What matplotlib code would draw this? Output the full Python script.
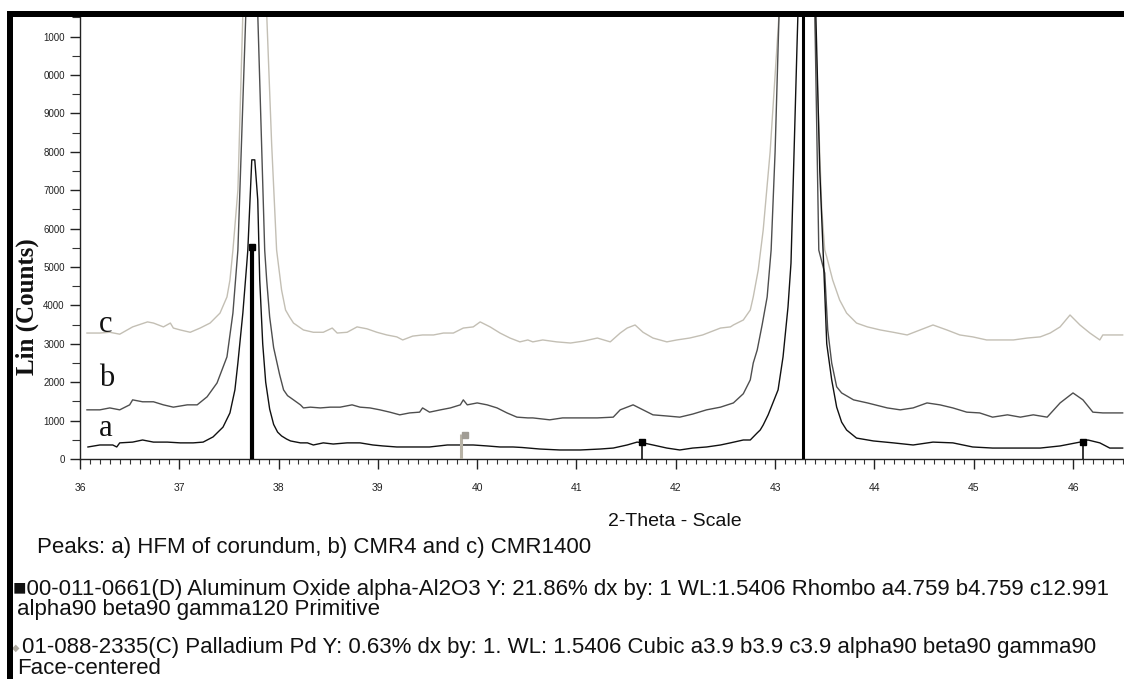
import matplotlib
matplotlib.use('Agg')
import matplotlib.pyplot as plt
from matplotlib.patches import Rectangle
from matplotlib.ticker import FixedLocator, FixedFormatter, MultipleLocator
import matplotlib.transforms as mtransforms

# ---------------- data (2-Theta in degrees, Lin counts) ----------------
c_x = [36.07, 36.20, 36.30, 36.40, 36.53, 36.68, 36.74, 36.84, 36.91, 36.94, 37.01, 37.11,
       37.21, 37.31, 37.41, 37.48, 37.51, 37.54, 37.59, 37.64, 37.76, 37.88, 37.93, 37.98,
       38.03, 38.07, 38.11, 38.15, 38.25, 38.35, 38.45, 38.54, 38.59, 38.69, 38.79, 38.89,
       38.99, 39.09, 39.19, 39.25, 39.35, 39.45, 39.56, 39.66, 39.76, 39.86, 39.96, 40.03,
       40.13, 40.23, 40.33, 40.43, 40.51, 40.56, 40.66, 40.80, 40.94, 41.07, 41.21, 41.34,
       41.44, 41.51, 41.59, 41.67, 41.77, 41.91, 42.01, 42.14, 42.27, 42.45, 42.55, 42.58,
       42.68, 42.75, 42.78, 42.83, 42.88, 42.95, 43.04, 43.25, 43.40, 43.47, 43.50, 43.52,
       43.58, 43.65, 43.72, 43.82, 43.93, 44.06, 44.19, 44.33, 44.46, 44.59, 44.73, 44.86,
       44.99, 45.13, 45.27, 45.40, 45.54, 45.67, 45.77, 45.87, 45.97, 46.07, 46.17, 46.27,
       46.30, 46.40, 46.50]
c_y = [3280, 3280, 3300, 3250, 3440, 3570, 3540, 3440, 3540, 3410, 3360, 3300,
       3410, 3540, 3800, 4220, 4660, 5440, 7000, 11600, 14000, 11600, 8200, 5440,
       4400, 3880, 3700, 3540, 3360, 3300, 3300, 3410, 3280, 3300, 3440, 3390,
       3300, 3230, 3180, 3100, 3200, 3230, 3230, 3280, 3280, 3410, 3440, 3570,
       3440, 3280, 3150, 3050, 3100, 3050, 3100, 3050, 3020, 3070, 3150, 3050,
       3280, 3410, 3490, 3300, 3150, 3050, 3100, 3150, 3230, 3410, 3440, 3490,
       3620, 3880, 4220, 4920, 5960, 8000, 11600, 14000, 11600, 6500, 5440, 5260,
       4660, 4140, 3800, 3540, 3440, 3360, 3300, 3230, 3360, 3490, 3360, 3230,
       3180, 3100, 3100, 3100, 3150, 3180, 3280, 3440, 3750, 3490, 3280, 3100,
       3230, 3230, 3230]

b_x = [36.07, 36.20, 36.30, 36.40, 36.50, 36.53, 36.63, 36.74, 36.84, 36.94, 37.08, 37.18,
       37.28, 37.38, 37.48, 37.54, 37.59, 37.67, 37.73, 37.79, 37.86, 37.88, 37.91, 37.95,
       38.01, 38.05, 38.09, 38.15, 38.22, 38.25, 38.32, 38.42, 38.52, 38.62, 38.74, 38.82,
       38.92, 39.02, 39.12, 39.22, 39.32, 39.42, 39.45, 39.52, 39.63, 39.73, 39.83, 39.86,
       39.90, 40.00, 40.10, 40.20, 40.30, 40.40, 40.51, 40.56, 40.73, 40.86, 41.04, 41.21,
       41.37, 41.44, 41.57, 41.67, 41.77, 41.91, 42.04, 42.17, 42.31, 42.45, 42.58, 42.68,
       42.75, 42.78, 42.82, 42.87, 42.92, 42.96, 43.00, 43.04, 43.26, 43.40, 43.44, 43.50,
       43.53, 43.57, 43.62, 43.67, 43.79, 43.93, 44.13, 44.26, 44.39, 44.53, 44.66, 44.79,
       44.93, 45.06, 45.19, 45.34, 45.47, 45.60, 45.74, 45.87, 46.00, 46.10, 46.20, 46.30,
       46.40, 46.50]
b_y = [1280, 1280, 1330, 1280, 1410, 1540, 1490, 1490, 1410, 1350, 1410, 1410,
       1620, 1980, 2660, 3800, 5440, 11600, 14000, 11600, 5440, 4660, 3700, 2900,
       2200, 1800, 1650, 1540, 1410, 1330, 1350, 1330, 1350, 1350, 1410, 1350,
       1330, 1280, 1220, 1150, 1200, 1220, 1330, 1220, 1280, 1330, 1410, 1540,
       1410, 1460, 1410, 1330, 1200, 1090, 1070, 1070, 1020, 1070, 1070, 1070,
       1090, 1280, 1410, 1280, 1150, 1120, 1090, 1170, 1280, 1350, 1460, 1700,
       2060, 2500, 2840, 3500, 4220, 5440, 8000, 11600, 14000, 11600, 5440, 4840,
       3360, 2500, 1880, 1720, 1540, 1460, 1330, 1280, 1330, 1460, 1410, 1330,
       1220, 1200, 1090, 1150, 1090, 1150, 1090, 1460, 1720, 1540, 1220, 1200,
       1200, 1200]

a_x = [36.08, 36.20, 36.33, 36.37, 36.40, 36.53, 36.63, 36.74, 36.88, 37.01, 37.14, 37.24,
       37.34, 37.44, 37.51, 37.56, 37.59, 37.64, 37.68, 37.69, 37.73, 37.76, 37.79, 37.81,
       37.84, 37.87, 37.91, 37.95, 37.99, 38.03, 38.08, 38.12, 38.22, 38.29, 38.35, 38.45,
       38.55, 38.69, 38.82, 38.95, 39.05, 39.19, 39.35, 39.52, 39.70, 39.83, 39.96, 40.10,
       40.23, 40.36, 40.45, 40.63, 40.83, 41.04, 41.24, 41.37, 41.51, 41.61, 41.67, 41.77,
       41.91, 42.04, 42.17, 42.31, 42.45, 42.55, 42.68, 42.75, 42.82, 42.85, 42.88, 42.93,
       43.03, 43.08, 43.13, 43.16, 43.22, 43.23, 43.30, 43.41, 43.45, 43.49, 43.52, 43.57,
       43.62, 43.67, 43.72, 43.82, 43.99, 44.19, 44.39, 44.59, 44.79, 44.99, 45.19, 45.44,
       45.67, 45.87, 46.07, 46.15, 46.27, 46.37, 46.50]
a_y = [313, 365, 365, 313, 420, 440, 495, 440, 440, 420, 420, 440,
       575, 830, 1200, 1800, 2500, 3800, 5100, 5440, 7790, 7790, 6750, 4660,
       3000, 2000, 1300, 900, 700, 600, 520, 470, 420, 420, 365, 420,
       390, 420, 420, 365, 340, 313, 313, 313, 365, 365, 365, 340,
       313, 313, 300, 260, 235, 235, 260, 285, 365, 440, 420, 365,
       285, 235, 285, 313, 365, 420, 495, 495, 680, 755, 885, 1150,
       1800, 2660, 3960, 5100, 10700, 11600, 14000, 11600, 7500, 5000, 3000, 2060,
       1350, 960, 755, 545, 470, 420, 365, 440, 420, 313, 285, 285,
       285, 340, 440, 495, 420, 285, 285]

# reference patterns (stick positions / heights)
al_pos = [37.73, 41.66, 43.28, 46.10]      # 00-011-0661 Aluminum Oxide
al_int = [5520, 440, 14000, 440]
pd_pos = [39.84]                           # 01-088-2335 Palladium
pd_int = [650]

x_ticks = [36, 37, 38, 39, 40, 41, 42, 43, 44, 45, 46]
x_tick_labels = ['36', '37', '38', '39', '40', '41', '42', '43', '44', '45', '46']
y_ticks = [0, 1000, 2000, 3000, 4000, 5000, 6000, 7000, 8000, 9000, 10000, 11000]
y_tick_labels = ['0', '1000', '2000', '3000', '4000', '5000', '6000', '7000',
                 '8000', '9000', '0000', '1000']

sample_labels = ['a', 'b', 'c']
sample_label_y = [600, 1900, 3300]

# ---------------- figure ----------------
W, H = 1124, 679
fig = plt.figure(figsize=(W / 100, H / 100), dpi=100)
fig.patch.set_facecolor('white')

def fx(px):
    return px / W

def fy(py):
    return 1 - py / H

ax = fig.add_axes([fx(80), fy(459), fx(W - 80), (459 - 17) / H])
ax.set_facecolor('white')

col_c = '#c3bfb4'
col_b = '#4e4e4e'
col_a = '#111111'
col_pd = '#b8b3a6'

ax.plot(c_x, c_y, color=col_c, lw=1.0, zorder=2)
ax.plot(b_x, b_y, color=col_b, lw=1.0, zorder=3)
ax.plot(a_x, a_y, color=col_a, lw=1.0, zorder=4)

al_lw = [3.0, 1.1, 2.2, 1.1]
ax.vlines(al_pos, 0, al_int, colors='black', linewidth=al_lw, zorder=5)
ax.plot(al_pos[:2] + al_pos[3:], al_int[:2] + al_int[3:], ls='none', marker='s',
        ms=4.5, color='black', zorder=6)
ax.vlines(pd_pos, 0, pd_int, colors=col_pd, linewidth=2.2, zorder=5)
flag = mtransforms.offset_copy(ax.transData, fig=fig, x=3.5, y=-1, units='dots')
ax.plot(pd_pos, pd_int, ls='none', marker='s', ms=5, color='#a09c94',
        transform=flag, zorder=6)

ax.set_xlim(36, 36 + (W - 80) / 99.3)
ax.set_ylim(0, (459 - 17) * 26.04)

for s in ['top', 'right']:
    ax.spines[s].set_visible(False)
for s in ['left', 'bottom']:
    ax.spines[s].set_linewidth(1.0)
    ax.spines[s].set_color('#222222')

ax.xaxis.set_major_locator(FixedLocator(x_ticks))
ax.xaxis.set_major_formatter(FixedFormatter(x_tick_labels))
ax.xaxis.set_minor_locator(MultipleLocator(0.1))
ax.yaxis.set_major_locator(FixedLocator(y_ticks))
ax.yaxis.set_major_formatter(FixedFormatter(y_tick_labels))
ax.yaxis.set_minor_locator(MultipleLocator(500))

ax.tick_params(axis='x', which='major', direction='out', length=7.2, width=1.0,
               pad=10, labelsize=7.5, colors='#222222')
ax.tick_params(axis='x', which='minor', direction='out', length=3.6, width=0.8,
               colors='#333333')
ax.tick_params(axis='y', which='major', direction='out', length=7.5, width=1.0,
               pad=3.5, labelsize=7.0, colors='#222222')
ax.tick_params(axis='y', which='minor', direction='out', length=5.5, width=0.8,
               colors='#333333')
for t in ax.get_xticklabels() + ax.get_yticklabels():
    t.set_family('Liberation Sans')

for lab, yy in zip(sample_labels, sample_label_y):
    ax.text(36.19, yy, lab, fontsize=22, family='Liberation Serif', color='#111111',
            va='baseline', ha='left', zorder=7)

# frame bars
fig.patches.append(Rectangle((fx(7), fy(17)), fx(W - 7), 6 / H, transform=fig.transFigure,
                             facecolor='black', edgecolor='none', zorder=10))
fig.patches.append(Rectangle((fx(7), 0), fx(6), (H - 11) / H, transform=fig.transFigure,
                             facecolor='black', edgecolor='none', zorder=10))

fig.text(fx(27), fy(307), 'Lin (Counts)', rotation=90, ha='center', va='center',
         fontsize=18, fontweight='bold', family='Liberation Serif', color='#111111')

fig.text(fx(675), fy(522), '2-Theta - Scale', ha='center', va='center', fontsize=14,
         family='Liberation Sans', color='#111111')

fs = 16.0
fam = ['Liberation Sans', 'DejaVu Sans']
fig.text(fx(37), fy(547), 'Peaks: a) HFM of corundum, b) CMR4 and c) CMR1400',
         ha='left', va='center', fontsize=fs, family=fam, color='#111111')
fig.text(fx(13), fy(589),
         '\u25a000-011-0661(D) Aluminum Oxide alpha-Al2O3 Y: 21.86% dx by: 1 WL:1.5406 '
         'Rhombo a4.759 b4.759 c12.991',
         ha='left', va='center', fontsize=fs, family=fam, color='#111111')
fig.text(fx(17), fy(610), 'alpha90 beta90 gamma120 Primitive',
         ha='left', va='center', fontsize=fs, family=fam, color='#111111')
fig.text(fx(12), fy(648), '\u25c6', ha='left', va='center', fontsize=7,
         family=['DejaVu Sans'], color='#b0aca2')
fig.text(fx(22), fy(647),
         '01-088-2335(C) Palladium Pd Y: 0.63% dx by: 1. WL: 1.5406 Cubic a3.9 b3.9 c3.9 '
         'alpha90 beta90 gamma90',
         ha='left', va='center', fontsize=fs, family=fam, color='#111111')
fig.text(fx(17), fy(668), 'Face-centered',
         ha='left', va='center', fontsize=fs, family=fam, color='#111111')

fig.savefig('out.png', dpi=100, facecolor='white')
